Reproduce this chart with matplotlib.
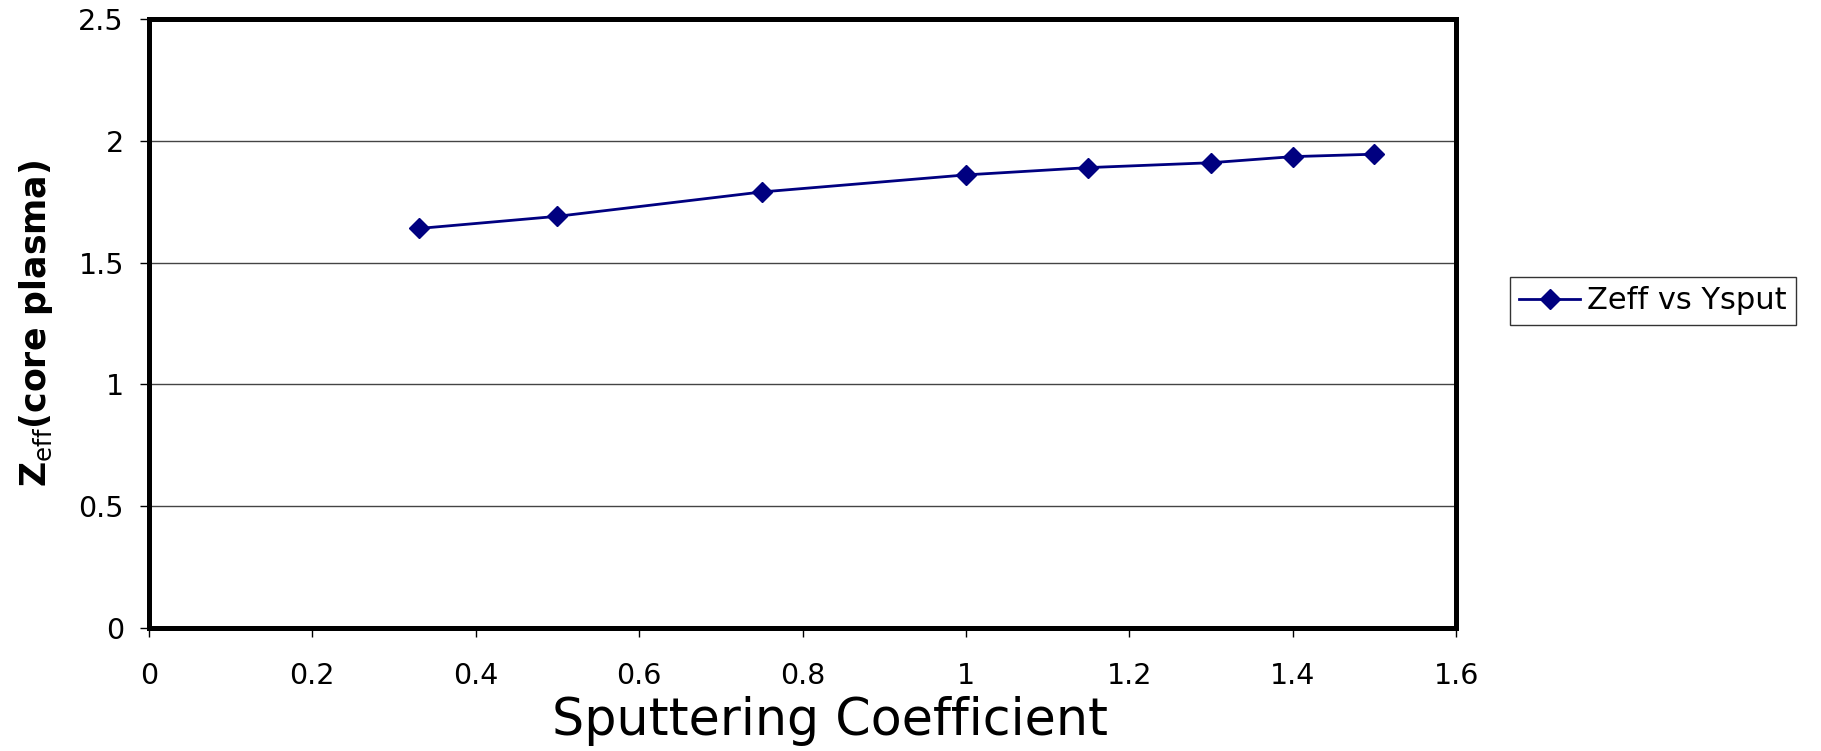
import matplotlib

matplotlib.use("Agg")
import matplotlib.pyplot as plt

# sputtering coefficient vs core-plasma Zeff
ysput = [0.33, 0.5, 0.75, 1.0, 1.15, 1.3, 1.4, 1.5]
zeff = [1.64, 1.69, 1.79, 1.86, 1.89, 1.91, 1.935, 1.945]

x_ticks = [0, 0.2, 0.4, 0.6, 0.8, 1, 1.2, 1.4, 1.6]
x_labels = ["0", "0.2", "0.4", "0.6", "0.8", "1", "1.2", "1.4", "1.6"]
y_ticks = [0, 0.5, 1, 1.5, 2, 2.5]
y_labels = ["0", "0.5", "1", "1.5", "2", "2.5"]

plt.rcParams["font.family"] = ["DejaVu Sans"]

fig = plt.figure(figsize=(18.21, 7.51), dpi=100)
ax = fig.add_axes([0.0818, 0.1638, 0.7178, 0.8109])

ax.plot(ysput, zeff, color="#000080", lw=2.0, marker="D", ms=10.5,
        label="Zeff vs Ysput")

ax.set_xlim(0, 1.6)
ax.set_ylim(0, 2.5)
ax.set_xticks(x_ticks, x_labels)
ax.set_yticks(y_ticks, y_labels)
ax.tick_params(axis="x", length=6.5, width=1, pad=18, labelsize=20.5)
ax.tick_params(axis="y", length=6.5, width=1, pad=11.5, labelsize=20.5)

ax.yaxis.grid(True, color="#444444", lw=1)
ax.set_axisbelow(True)
for sp in ax.spines.values():
    sp.set_linewidth(3.6)
    sp.set_color("black")

ax.set_xlabel("Sputtering Coefficient", fontsize=36.5)
ax.xaxis.set_label_coords(0.521, -0.112)
ax.xaxis.label.set_va("top")
ax.set_ylabel(r"Z$_{\mathrm{eff}}$(core plasma)", fontsize=25,
              fontweight="bold", labelpad=17)

leg = ax.legend(loc="center left", bbox_to_anchor=(1.0413, 0.537),
                borderaxespad=0, fontsize=22, frameon=True, fancybox=False,
                handlelength=2.0, borderpad=0.3, handletextpad=0.23)
leg.get_frame().set_edgecolor("black")
leg.get_frame().set_linewidth(1)

fig.savefig("out.png", dpi=100)
